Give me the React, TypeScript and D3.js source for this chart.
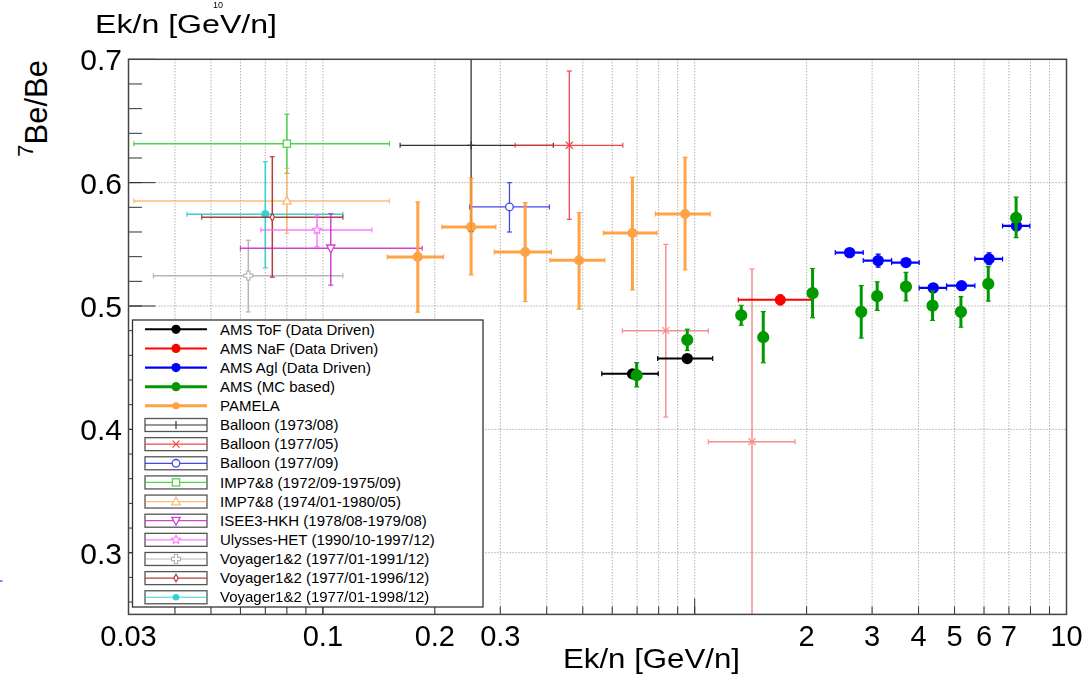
import React from "react";
import * as d3 from "d3";

type Pt = { e: number; r: number; eLo?: number; eHi?: number; rLo: number; rHi: number };

// ---------- data ----------
const amsTof: Pt[] = [
  { e: 0.68, r: 0.445, eLo: 0.5625, eHi: 0.798, rLo: 0.443, rHi: 0.447 },
  { e: 0.955, r: 0.4574, eLo: 0.795, eHi: 1.118, rLo: 0.4555, rHi: 0.4595 },
];
const amsNaf: Pt[] = [
  { e: 1.699, r: 0.505, eLo: 1.31, eHi: 2.063, rLo: 0.501, rHi: 0.509 },
];
const amsAgl: Pt[] = [
  { e: 2.61, r: 0.5433, eLo: 2.388, eHi: 2.84, rLo: 0.5413, rHi: 0.5453 },
  { e: 3.115, r: 0.5368, eLo: 2.84, eHi: 3.385, rLo: 0.5315, rHi: 0.542 },
  { e: 3.7, r: 0.5352, eLo: 3.385, eHi: 4.016, rLo: 0.5335, rHi: 0.537 },
  { e: 4.38, r: 0.5147, eLo: 4.016, eHi: 4.758, rLo: 0.513, rHi: 0.5165 },
  { e: 5.22, r: 0.5165, eLo: 4.758, eHi: 5.67, rLo: 0.5148, rHi: 0.5183 },
  { e: 6.19, r: 0.5382, eLo: 5.67, eHi: 6.73, rLo: 0.5335, rHi: 0.543 },
  { e: 7.335, r: 0.5649, eLo: 6.73, eHi: 7.97, rLo: 0.5619, rHi: 0.5679 },
];
const amsMc: Pt[] = [
  { e: 0.698, r: 0.4439, rLo: 0.4344, rHi: 0.4541 },
  { e: 0.955, r: 0.4725, rLo: 0.4639, rHi: 0.4812 },
  { e: 1.334, r: 0.4925, rLo: 0.4844, rHi: 0.5006 },
  { e: 1.529, r: 0.4747, rLo: 0.454, rHi: 0.4955 },
  { e: 2.075, r: 0.5104, rLo: 0.4905, rHi: 0.5304 },
  { e: 2.805, r: 0.4952, rLo: 0.474, rHi: 0.5165 },
  { e: 3.096, r: 0.508, rLo: 0.4964, rHi: 0.5196 },
  { e: 3.7, r: 0.5157, rLo: 0.5041, rHi: 0.5273 },
  { e: 4.362, r: 0.5003, rLo: 0.4883, rHi: 0.5122 },
  { e: 5.2, r: 0.4952, rLo: 0.4828, rHi: 0.5076 },
  { e: 6.16, r: 0.5179, rLo: 0.5039, rHi: 0.532 },
  { e: 7.32, r: 0.5714, rLo: 0.5554, rHi: 0.5882 },
];
const pamela: Pt[] = [
  { e: 0.18, r: 0.5398, eLo: 0.149, eHi: 0.211, rLo: 0.495, rHi: 0.5844 },
  { e: 0.2504, r: 0.5641, eLo: 0.2089, eHi: 0.2918, rLo: 0.5252, rHi: 0.6036 },
  { e: 0.35, r: 0.5438, eLo: 0.289, eHi: 0.4117, rLo: 0.5036, rHi: 0.5838 },
  { e: 0.4886, r: 0.5371, eLo: 0.4077, eHi: 0.573, rLo: 0.4974, rHi: 0.5757 },
  { e: 0.68, r: 0.5592, eLo: 0.568, eHi: 0.792, rLo: 0.513, rHi: 0.6044 },
  { e: 0.942, r: 0.5746, eLo: 0.784, eHi: 1.101, rLo: 0.5293, rHi: 0.6206 },
];
const balloon1973: Pt[] = [
  { e: 0.2504, r: 0.6303, eLo: 0.1613, eHi: 0.4167, rLo: 0.5603, rHi: 0.7003 },
];
const balloon1977a: Pt[] = [
  { e: 0.46, r: 0.6303, eLo: 0.329, eHi: 0.6406, rLo: 0.5703, rHi: 0.6905 },
];
const balloon1977aExtra: Pt[] = [
  { e: 0.836, r: 0.48, eLo: 0.639, eHi: 1.088, rLo: 0.41, rHi: 0.55 },
  { e: 1.426, r: 0.39, eLo: 1.088, eHi: 1.861, rLo: 0.25, rHi: 0.53 },
];
const balloon1977b: Pt[] = [
  { e: 0.3175, r: 0.5803, eLo: 0.248, eHi: 0.4066, rLo: 0.56, rHi: 0.6 },
];
const imp7275: Pt[] = [
  { e: 0.08, r: 0.6316, eLo: 0.031, eHi: 0.151, rLo: 0.6076, rHi: 0.6554 },
];
const imp7480: Pt[] = [
  { e: 0.08, r: 0.5852, eLo: 0.031, eHi: 0.151, rLo: 0.559, rHi: 0.6117 },
];
const isee3: Pt[] = [
  { e: 0.105, r: 0.5468, eLo: 0.06, eHi: 0.185, rLo: 0.5169, rHi: 0.5749 },
];
const ulysses: Pt[] = [
  { e: 0.0964, r: 0.5617, eLo: 0.0681, eHi: 0.1354, rLo: 0.5481, rHi: 0.5738 },
];
const voyager91: Pt[] = [
  { e: 0.063, r: 0.5246, eLo: 0.035, eHi: 0.1132, rLo: 0.4952, rHi: 0.5533 },
];
const voyager96: Pt[] = [
  { e: 0.0731, r: 0.572, eLo: 0.0472, eHi: 0.1132, rLo: 0.5233, rHi: 0.621 },
];
const voyager98: Pt[] = [
  { e: 0.07, r: 0.5744, eLo: 0.0431, eHi: 0.1132, rLo: 0.531, rHi: 0.617 },
];

const xTickLabels = ["0.03", "0.1", "0.2", "0.3", "2", "3", "4", "5", "6", "7", "10"];
const yTickLabels = ["0.3", "0.4", "0.5", "0.6", "0.7"];
const legendLabels = [
  "AMS ToF (Data Driven)",
  "AMS NaF (Data Driven)",
  "AMS Agl (Data Driven)",
  "AMS (MC based)",
  "PAMELA",
  "Balloon (1973/08)",
  "Balloon (1977/05)",
  "Balloon (1977/09)",
  "IMP7&8 (1972/09-1975/09)",
  "IMP7&8 (1974/01-1980/05)",
  "ISEE3-HKH (1978/08-1979/08)",
  "Ulysses-HET (1990/10-1997/12)",
  "Voyager1&2 (1977/01-1991/12)",
  "Voyager1&2 (1977/01-1996/12)",
  "Voyager1&2 (1977/01-1998/12)",
];

// ---------- styles ----------
type Style = { color: string; width: number; marker: string; op?: number; boxed: boolean };
const S: Record<string, Style> = {
  tof: { color: "#000000", width: 2, marker: "big", boxed: false },
  naf: { color: "#ff0000", width: 2, marker: "big", boxed: false },
  agl: { color: "#0000ff", width: 2.2, marker: "big", boxed: false },
  mc: { color: "#009900", width: 3, marker: "big", boxed: false },
  pam: { color: "#ff9933", width: 3, marker: "mid", op: 0.9, boxed: false },
  b73: { color: "#333333", width: 1.3, marker: "plus", boxed: true },
  b77a: { color: "#ee3333", width: 1.3, marker: "x", op: 0.9, boxed: true },
  b77ax: { color: "#f27a7a", width: 1.5, marker: "x", op: 0.85, boxed: true },
  b77b: { color: "#3333ee", width: 1.3, marker: "circ", op: 0.9, boxed: true },
  i75: { color: "#33cc33", width: 1.5, marker: "square", op: 0.85, boxed: true },
  i80: { color: "#ffaa55", width: 1.5, marker: "triUp", op: 0.8, boxed: true },
  isee: { color: "#cc22cc", width: 1.5, marker: "triDown", op: 0.85, boxed: true },
  uly: { color: "#ff66ff", width: 1.5, marker: "star", op: 0.85, boxed: true },
  v91: { color: "#aaaaaa", width: 1.5, marker: "cross", op: 0.85, boxed: true },
  v96: { color: "#aa2a2a", width: 1.5, marker: "diamond", op: 0.9, boxed: true },
  v98: { color: "#22cccc", width: 1.5, marker: "dot", op: 0.9, boxed: true },
};

const drawOrder: [Pt[], string][] = [
  [voyager91, "v91"],
  [imp7275, "i75"],
  [imp7480, "i80"],
  [voyager98, "v98"],
  [voyager96, "v96"],
  [ulysses, "uly"],
  [isee3, "isee"],
  [balloon1973, "b73"],
  [balloon1977a, "b77a"],
  [balloon1977aExtra, "b77ax"],
  [balloon1977b, "b77b"],
  [pamela, "pam"],
  [amsTof, "tof"],
  [amsNaf, "naf"],
  [amsAgl, "agl"],
  [amsMc, "mc"],
];
const legendStyles = ["tof", "naf", "agl", "mc", "pam", "b73", "b77a", "b77b", "i75", "i80", "isee", "uly", "v91", "v96", "v98"];

// ---------- layout ----------
const W = 1091, H = 677;
const L = 128.5, R = 1066.5, T = 59.3, B = 614.4;
const x = d3.scaleLog().domain([0.03, 10]).range([L, R]);
const y = d3.scaleLinear().domain([0.25, 0.7]).range([B, T]);
const FONT = "'Liberation Sans', Arial, Helvetica, sans-serif";

function Marker({ kind, cx, cy, color }: { kind: string; cx: number; cy: number; color: string }) {
  const t = `translate(${cx},${cy})`;
  switch (kind) {
    case "big":
      return <circle cx={cx} cy={cy} r={4.6} fill={color} />;
    case "mid":
      return <circle cx={cx} cy={cy} r={3.6} fill={color} />;
    case "dot":
      return <circle cx={cx} cy={cy} r={3.3} fill={color} />;
    case "plus":
      return <path transform={t} d="M-4,0H4M0,-4V4" stroke={color} strokeWidth={1.2} fill="none" />;
    case "x":
      return <path transform={t} d="M-3.5,-3.5L3.5,3.5M-3.5,3.5L3.5,-3.5" stroke={color} strokeWidth={1.2} fill="none" />;
    case "circ":
      return <circle cx={cx} cy={cy} r={3.8} fill="white" stroke={color} strokeWidth={1.3} />;
    case "square":
      return <rect x={cx - 3.6} y={cy - 3.6} width={7.2} height={7.2} fill="white" stroke={color} strokeWidth={1.3} />;
    case "triUp":
      return <path transform={t} d="M0,-4.5L4.2,3.3L-4.2,3.3Z" fill="white" stroke={color} strokeWidth={1.3} />;
    case "triDown":
      return <path transform={t} d="M0,4.5L4.2,-3.3L-4.2,-3.3Z" fill="white" stroke={color} strokeWidth={1.3} />;
    case "star": {
      const pts = d3.range(10).map((i) => {
        const a = (i * Math.PI) / 5 - Math.PI / 2;
        const rr = i % 2 === 0 ? 4.5 : 2.2;
        return `${(rr * Math.cos(a)).toFixed(2)},${(rr * Math.sin(a)).toFixed(2)}`;
      });
      return <path transform={t} d={`M${pts.join("L")}Z`} fill="white" stroke={color} strokeWidth={1.2} />;
    }
    case "cross":
      return (
        <path
          transform={t}
          d="M-1.6,-4.5H1.6V-1.6H4.5V1.6H1.6V4.5H-1.6V1.6H-4.5V-1.6H-1.6Z"
          fill="white"
          stroke={color}
          strokeWidth={1.2}
        />
      );
    case "diamond":
      return <path transform={t} d="M0,-3.8L2.2,0L0,3.8L-2.2,0Z" fill="white" stroke={color} strokeWidth={1.2} />;
    default:
      return null;
  }
}

function Series({ data, st }: { data: Pt[]; st: Style }) {
  const cap = 2.5;
  return (
    <g opacity={st.op ?? 1}>
      {data.map((p, i) => {
        const cx = x(p.e), cy = y(p.r);
        const y1 = y(p.rHi), y2 = y(p.rLo);
        const hasX = p.eLo !== undefined && p.eHi !== undefined;
        const x1 = hasX ? x(p.eLo!) : cx, x2 = hasX ? x(p.eHi!) : cx;
        return (
          <g key={i} stroke={st.color} strokeWidth={st.width} fill="none">
            {hasX && (
              <>
                <line x1={x1} x2={x2} y1={cy} y2={cy} />
                <line x1={x1} x2={x1} y1={cy - cap} y2={cy + cap} strokeWidth={1.2} />
                <line x1={x2} x2={x2} y1={cy - cap} y2={cy + cap} strokeWidth={1.2} />
              </>
            )}
            {Math.abs(y2 - y1) > 1 && (
              <>
                <line x1={cx} x2={cx} y1={y1} y2={y2} />
                {y1 > T + 1 && <line x1={cx - cap} x2={cx + cap} y1={y1} y2={y1} strokeWidth={1.2} />}
                {y2 < B - 1 && <line x1={cx - cap} x2={cx + cap} y1={y2} y2={y2} strokeWidth={1.2} />}
              </>
            )}
            <Marker kind={st.marker} cx={cx} cy={cy} color={st.color} />
          </g>
        );
      })}
    </g>
  );
}

export default function App() {
  const xMinor: number[] = [];
  for (const dec of [0.01, 0.1, 1]) for (let k = 1; k <= 9; k++) {
    const v = k * dec;
    if (v > 0.03 + 1e-9 && v < 10 - 1e-9) xMinor.push(v);
  }
  const xMajor = [0.1, 1];
  const yMajor = [0.3, 0.4, 0.5, 0.6];
  const yMinor = d3.range(13, 35).map((k) => k * 0.02).filter((v) => v > 0.25 && v < 0.7);

  const legX = 132.5, legY = 320, legW = 350.5, legH = 287;
  const row0 = 329.3, rowStep = 19.14;

  return (
    <svg
      width={W}
      height={H}
      viewBox={`0 0 ${W} ${H}`}
      style={{ position: "absolute", left: 0, top: 0, background: "white" }}
      fontFamily={FONT}
    >
      <defs>
        <clipPath id="frame">
          <rect x={L} y={T} width={R - L} height={B - T} />
        </clipPath>
      </defs>
      <rect x={0} y={0} width={W} height={H} fill="white" />

      {/* grid */}
      <g stroke="#8a8a8a" strokeWidth={1} strokeDasharray="1 2">
        {xMinor.map((v) => (
          <line key={v} x1={x(v)} x2={x(v)} y1={T} y2={B} />
        ))}
        {yMajor.map((v) => (
          <line key={v} x1={L} x2={R} y1={y(v)} y2={y(v)} />
        ))}
      </g>

      {/* data */}
      <g clipPath="url(#frame)">
        {drawOrder.map(([data, key], i) => (
          <Series key={i} data={data} st={S[key]} />
        ))}
      </g>

      {/* y ticks */}
      <g stroke="#333" strokeWidth={1}>
        {yMinor.map((v) => (
          <line key={v} x1={L} x2={L + 13.5} y1={y(v)} y2={y(v)} />
        ))}
        {[...yMajor, 0.7].map((v) => (
          <line key={"M" + v} x1={L} x2={L + 27} y1={y(v)} y2={y(v)} />
        ))}
      </g>

      {/* x ticks */}
      <g stroke="#333" strokeWidth={1}>
        {xMinor.map((v) => (
          <line key={v} x1={x(v)} x2={x(v)} y1={B} y2={B - 8} />
        ))}
        {xMajor.map((v) => (
          <line key={"M" + v} x1={x(v)} x2={x(v)} y1={B} y2={B - 16} />
        ))}
      </g>

      {/* legend */}
      <rect x={legX} y={legY} width={legW} height={legH} fill="white" stroke="#333" strokeWidth={1.3} />
      {legendLabels.map((lab, i) => {
        const st = S[legendStyles[i]];
        const cy = row0 + i * rowStep;
        return (
          <g key={lab}>
            {st.boxed && (
              <rect x={145} y={cy - 6.5} width={62} height={13} fill="white" stroke="#555" strokeWidth={1.3} />
            )}
            <g opacity={st.op ?? 1}>
              <line x1={145} x2={207} y1={cy} y2={cy} stroke={st.color} strokeWidth={st.boxed ? 1.2 : st.width} />
              {st.marker === "plus" && <line x1={176} x2={176} y1={cy - 4} y2={cy + 4} stroke={st.color} strokeWidth={1.2} />}
              {st.marker !== "plus" && <Marker kind={st.marker} cx={176} cy={cy} color={st.color} />}
            </g>
            <text x={220} y={cy + 5.2} fontSize={15} fill="#000">
              {lab}
            </text>
          </g>
        );
      })}

      {/* frame */}
      <rect x={L} y={T} width={R - L} height={B - T} fill="none" stroke="#444" strokeWidth={1.5} />

      {/* x tick labels */}
      <g fontSize={29} fill="#000" textAnchor="middle">
        {xTickLabels.map((s) => (
          <text key={s} x={x(+s)} y={646}>
            {s}
          </text>
        ))}
      </g>
      {/* y tick labels */}
      <g fontSize={30} fill="#000" textAnchor="end">
        {yTickLabels.map((s) => (
          <text key={s} x={122} y={y(+s) + 11}>
            {s}
          </text>
        ))}
      </g>

      {/* titles */}
      <text x={563} y={668} fontSize={28} textLength={177} lengthAdjust="spacingAndGlyphs">
        Ek/n [GeV/n]
      </text>
      <text x={95} y={33} fontSize={26} textLength={182} lengthAdjust="spacingAndGlyphs">
        Ek/n [GeV/n]
      </text>
      <text x={218} y={7.5} fontSize={9} textAnchor="middle">
        10
      </text>
      <text transform="translate(46.7,60) rotate(-90)" textAnchor="end" fontSize={31}>
        <tspan fontSize={22} dy={-14}>7</tspan>
        <tspan dy={14}>Be/Be</tspan>
      </text>

      {/* stray mark at left edge */}
      <line x1={0} x2={2.5} y1={581} y2={581} stroke="#0000ff" strokeWidth={1} />
    </svg>
  );
}
